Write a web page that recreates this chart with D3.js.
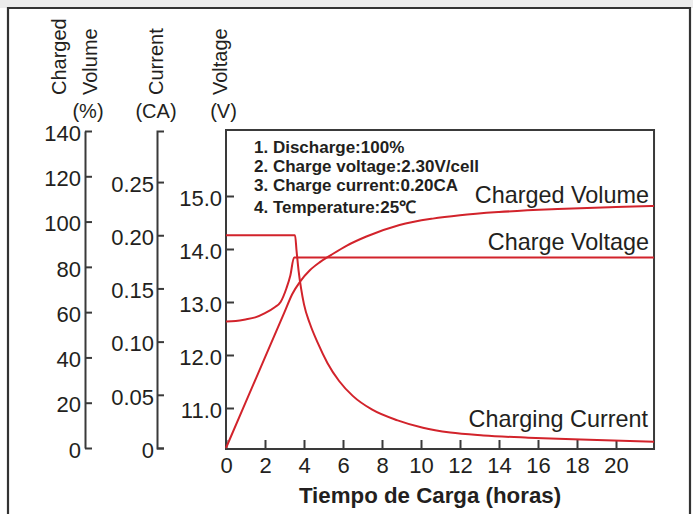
<!DOCTYPE html>
<html>
<head>
<meta charset="utf-8">
<script src="https://cdn.jsdelivr.net/npm/d3@7"></script>
<style>
  html, body { margin: 0; padding: 0; background: #ffffff; }
  svg { display: block; }
  text { font-family: "Liberation Sans", Arial, Helvetica, sans-serif; fill: #231f20; }
</style>
</head>
<body>
<svg id="chart" width="693" height="514"></svg>
<script>
// ---------- data ----------
const xTicks = [0, 2, 4, 6, 8, 10, 12, 14, 16, 18, 20];
const pctTicks = [0, 20, 40, 60, 80, 100, 120, 140];
const curTicks = [0, 0.05, 0.10, 0.15, 0.20, 0.25];
const voltTicks = [11, 12, 13, 14, 15];

// Charging current (CA) vs hours
const currentHours = [0, 3.54, 3.62, 3.72, 3.85, 4.0, 4.3, 4.7, 5.2, 5.8, 6.5, 7.5, 8.8, 10.1, 11.5, 13.2, 15.5, 18.2, 21.95];
const currentValues = [0.20, 0.20, 0.185, 0.167, 0.150, 0.135, 0.117, 0.099, 0.080, 0.063, 0.049, 0.036, 0.026, 0.019, 0.0145, 0.0118, 0.0097, 0.0080, 0.0058];

// Charge voltage (V) vs hours
const voltageHours = [0, 0.5, 1, 1.5, 2, 2.5, 2.8, 3.1, 3.3, 3.49, 21.95];
const voltageValues = [12.63, 12.64, 12.67, 12.71, 12.79, 12.9, 13.0, 13.26, 13.5, 13.84, 13.84];

// Charged volume (%) vs hours
const volumeHours = [0, 1, 2, 3, 3.4, 3.8, 4.3, 4.8, 5.4, 6.2, 7.2, 8.9, 10.6, 12, 14, 17, 20, 21.95];
const volumeValues = [0, 20, 40, 60, 68, 73.5, 78.5, 82.0, 85.3, 89.4, 93.4, 98.5, 101.3, 102.8, 104.2, 105.5, 106.4, 106.9];

const notes = ["1. Discharge:100%", "2. Charge voltage:2.30V/cell", "3. Charge current:0.20CA", "4. Temperature:25\u2103"];
const seriesLabels = ["Charged Volume", "Charge Voltage", "Charging Current"];
const xTitle = "Tiempo de Carga (horas)";
const axisTitles = [["Charged", "Volume", "(%)"], ["Current", "(CA)"], ["Voltage", "(V)"]];
const xMax = 21.95;

// ---------- layout ----------
const svg = d3.select("#chart");
const RED = "#d2232b";
const AX = "#3a3a3a";

const x = d3.scaleLinear().domain([0, 20]).range([226, 616]);
const yV = d3.scaleLinear().domain([11, 15]).range([408, 196]);
const yPct = d3.scaleLinear().domain([0, 140]).range([448, 131]);
const yCur = d3.scaleLinear().domain([0, 0.298]).range([448, 131]);

const plotTop = 130, plotBottom = 449;

// background strip & frame
svg.append("rect").attr("x", 0).attr("y", 0).attr("width", 693).attr("height", 514).attr("fill", "#ffffff");
svg.append("rect").attr("x", 0).attr("y", 0).attr("width", 693).attr("height", 8).attr("fill", "#ececec");
svg.append("path")
  .attr("d", "M8,520 V8 H690 V520")
  .attr("fill", "none").attr("stroke", "#333").attr("stroke-width", 2.2);

// plot box
svg.append("rect")
  .attr("x", x(0)).attr("y", plotTop)
  .attr("width", x(xMax) - x(0)).attr("height", plotBottom - plotTop)
  .attr("fill", "none").attr("stroke", AX).attr("stroke-width", 2);

function styleAxis(g, labelX) {
  g.selectAll("path.domain").attr("stroke", AX).attr("stroke-width", 2);
  g.selectAll(".tick line").attr("stroke", AX).attr("stroke-width", 2);
  g.selectAll(".tick text")
    .attr("x", labelX).attr("dy", "0.42em")
    .attr("text-anchor", "end")
    .style("font-size", "22px").attr("fill", "#231f20");
}

// percent axis
const gPct = svg.append("g").attr("transform", "translate(85,0)")
  .call(d3.axisRight(yPct).tickValues(pctTicks).tickSize(7).tickSizeOuter(0).tickFormat(d3.format("d")));
styleAxis(gPct, -4);

// current axis
const gCur = svg.append("g").attr("transform", "translate(157,0)")
  .call(d3.axisRight(yCur).tickValues(curTicks).tickSize(7).tickSizeOuter(7)
    .tickFormat(d => d === 0 ? "0" : d3.format(".2f")(d)));
styleAxis(gCur, -3);

// voltage axis (plot left border)
const gV = svg.append("g").attr("transform", `translate(${x(0)},0)`)
  .call(d3.axisRight(yV).tickValues(voltTicks).tickSize(8).tickSizeOuter(0).tickFormat(d3.format(".1f")));
gV.select("path.domain").remove();
styleAxis(gV, -4);

// x axis
const gX = svg.append("g").attr("transform", `translate(0,${plotBottom})`)
  .call(d3.axisBottom(x).tickValues(xTicks).tickSizeInner(-9).tickSizeOuter(0).tickPadding(8));
gX.select("path.domain").remove();
gX.selectAll(".tick line").attr("stroke", AX).attr("stroke-width", 2);
gX.selectAll(".tick text").style("font-size", "22px").attr("fill", "#231f20");

// axis titles (rotated)
const rot = [
  { t: axisTitles[0][0], bx: 66 },
  { t: axisTitles[0][1], bx: 97 },
  { t: axisTitles[1][0], bx: 163 },
  { t: axisTitles[2][0], bx: 227 }
];
rot.forEach(r => {
  svg.append("text")
    .attr("transform", `translate(${r.bx},95) rotate(-90)`)
    .attr("text-anchor", "start")
    .style("font-size", "20px").text(r.t);
});
const units = [{ t: axisTitles[0][2], cx: 88 }, { t: axisTitles[1][1], cx: 156 }, { t: axisTitles[2][1], cx: 223.5 }];
units.forEach(u => {
  svg.append("text").attr("x", u.cx).attr("y", 118)
    .attr("text-anchor", "middle").style("font-size", "20px").text(u.t);
});

// ---------- curves ----------
const lineCur = d3.line().x((d, i) => x(currentHours[i])).y(d => yCur(d)).curve(d3.curveMonotoneX);
const lineV = d3.line().x((d, i) => x(voltageHours[i])).y(d => yV(d)).curve(d3.curveMonotoneX);
const lineVol = d3.line().x((d, i) => x(volumeHours[i])).y(d => yPct(d)).curve(d3.curveMonotoneX);

[[lineVol, volumeValues], [lineV, voltageValues], [lineCur, currentValues]].forEach(([ln, vals]) => {
  svg.append("path").attr("d", ln(vals))
    .attr("fill", "none").attr("stroke", RED).attr("stroke-width", 2)
    .attr("stroke-linejoin", "round");
});

// ---------- notes ----------
const noteY = [153, 172, 191, 213];
notes.forEach((n, i) => {
  svg.append("text").attr("x", 254).attr("y", noteY[i])
    .style("font-size", "17px").style("font-weight", "bold").text(n);
});

// series labels
const labelPos = [{ x: 649, y: 203 }, { x: 649, y: 250 }, { x: 648, y: 427 }];
seriesLabels.forEach((s, i) => {
  svg.append("text").attr("x", labelPos[i].x).attr("y", labelPos[i].y)
    .attr("text-anchor", "end").style("font-size", "23.4px").text(s);
});

// x title
svg.append("text").attr("x", 430).attr("y", 503)
  .attr("text-anchor", "middle").style("font-size", "22.3px").style("font-weight", "bold")
  .text(xTitle);
</script>
</body>
</html>
